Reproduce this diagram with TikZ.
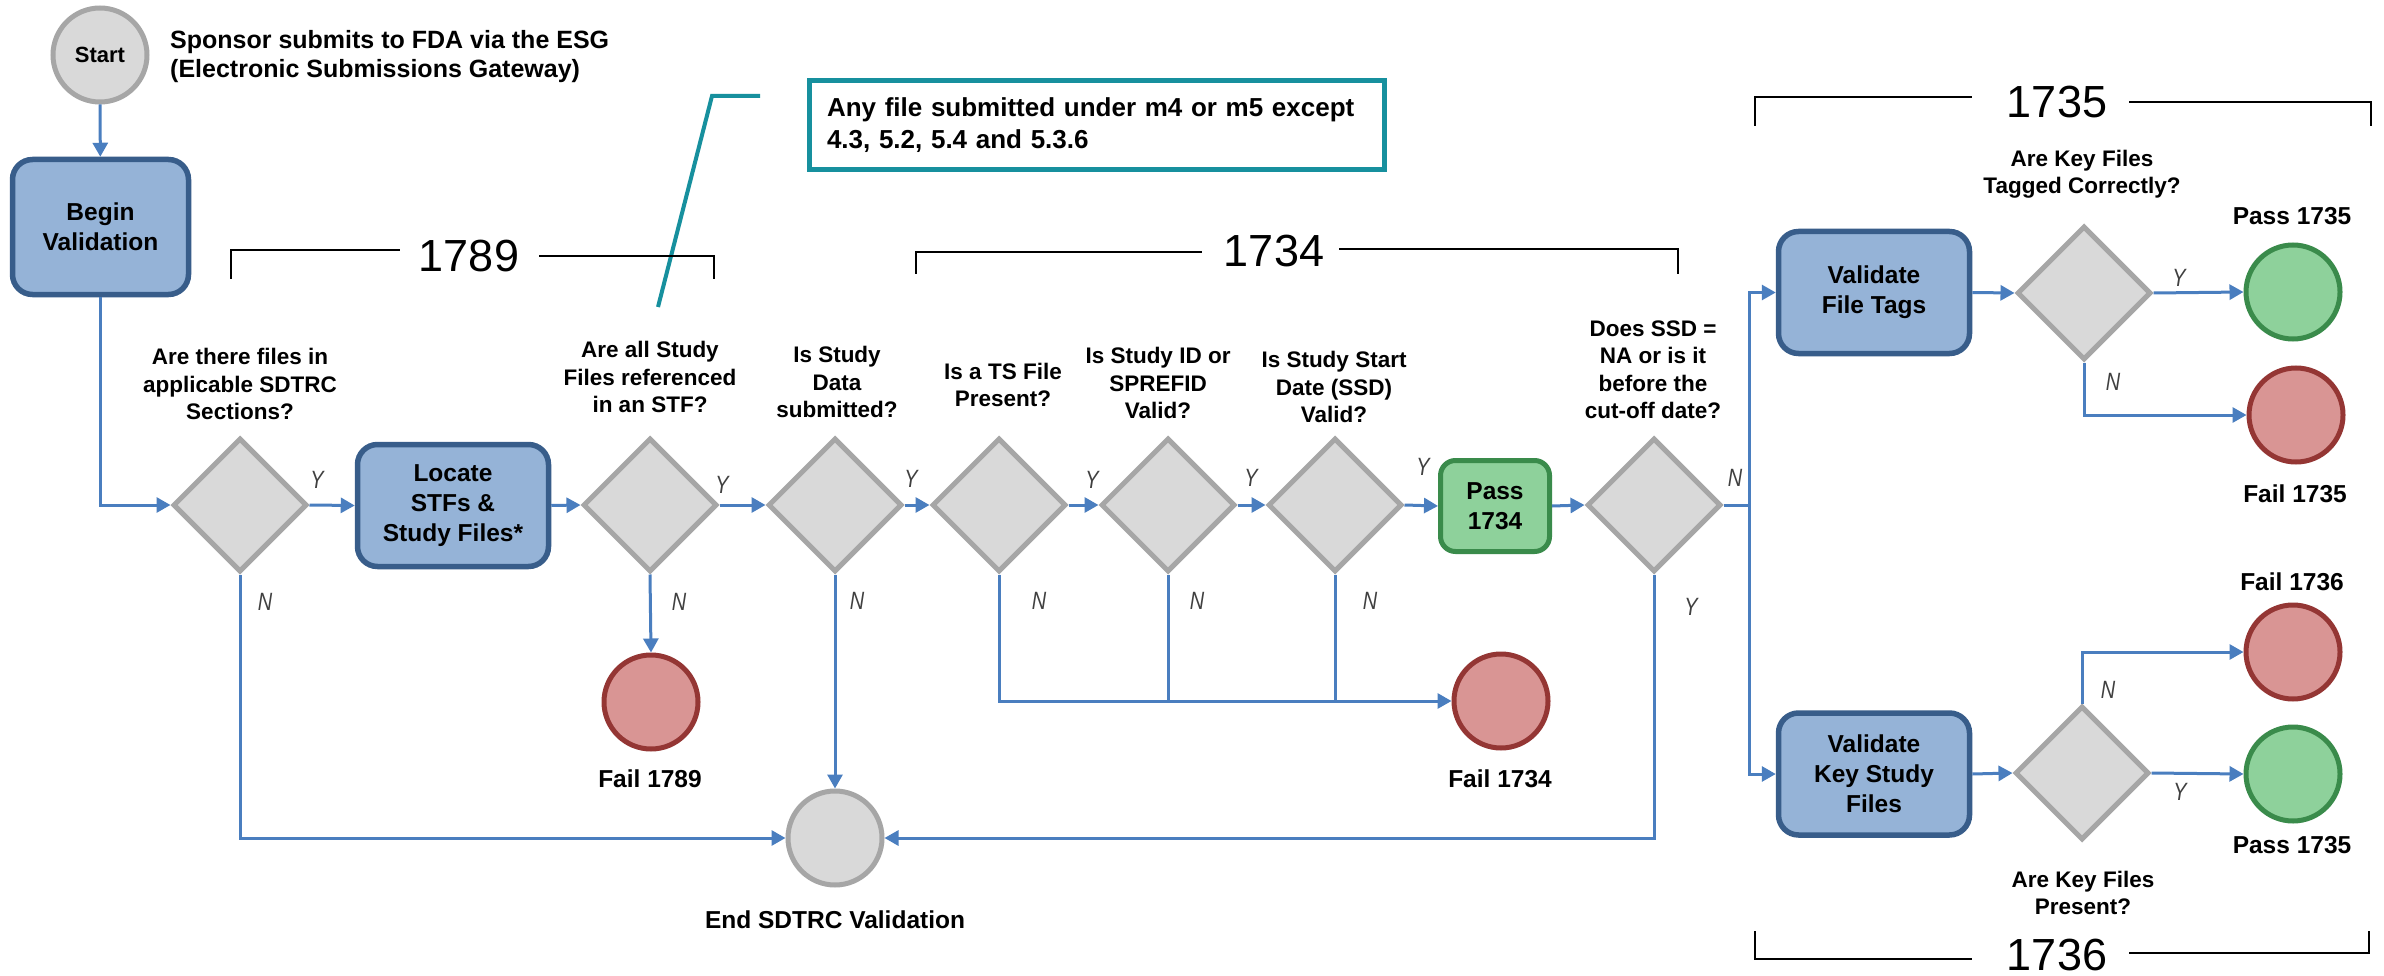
\documentclass[tikz,border=0pt]{standalone}
\usepackage{graphicx}
\usepackage{fontspec}
\setmainfont{Liberation Sans}
\usetikzlibrary{shapes.geometric,arrows.meta}

\definecolor{flowblue}{HTML}{4A7EBF}
\definecolor{procfill}{HTML}{95B3D7}
\definecolor{procline}{HTML}{385D8A}
\definecolor{decfill}{HTML}{D9D9D9}
\definecolor{decline}{HTML}{A6A6A6}
\definecolor{okfill}{HTML}{8ED19B}
\definecolor{okline}{HTML}{3A8B4B}
\definecolor{badfill}{HTML}{D99594}
\definecolor{badline}{HTML}{943634}
\definecolor{noteline}{HTML}{17909E}
\definecolor{labgray}{HTML}{404040}

\newcommand\txtbox{\fontsize{24.5}{30}\selectfont\bfseries}
\newcommand\txtq{\fontsize{22.5}{27.5}\selectfont\bfseries}
\newcommand\txtout{\fontsize{24.5}{29}\selectfont\bfseries}
\newcommand\txtrule{\fontsize{45}{50}\selectfont}
\newcommand\txtyn{\fontsize{25}{28}\selectfont\itshape}
% narrow italic branch letters
\newcommand\branch[1]{\scalebox{0.8}[1]{#1}}

\tikzset{
  conn/.style={draw=flowblue, line width=3pt, -{Triangle[length=14pt,width=15pt]}},
  joinline/.style={draw=flowblue, line width=3pt},
  decision/.style={diamond, draw=decline, fill=decfill, line width=5pt,
    minimum width=134pt, minimum height=134pt, inner sep=0pt},
  process/.style={rectangle, rounded corners=20pt, draw=procline, fill=procfill,
    line width=5.5pt, minimum width=191pt, minimum height=122pt,
    align=center, font=\txtbox, inner sep=0pt},
  okbox/.style={rectangle, rounded corners=15pt, draw=okline, fill=okfill,
    line width=5pt, minimum width=109pt, minimum height=91pt,
    align=center, font=\txtbox, inner sep=0pt},
  terminal/.style={circle, draw=decline, fill=decfill, line width=5pt,
    minimum size=94pt, inner sep=0pt},
  okend/.style={circle, draw=okline, fill=okfill, line width=5pt,
    minimum size=94pt, inner sep=0pt},
  badend/.style={circle, draw=badline, fill=badfill, line width=5pt,
    minimum size=94pt, inner sep=0pt},
  question/.style={align=center, font=\txtq, inner sep=0pt},
  outcome/.style={font=\txtout, inner sep=0pt},
  yn/.style={font=\txtyn, text=labgray, inner sep=0pt},
  rulenum/.style={font=\txtrule, inner sep=0pt},
  bracket/.style={draw=black, line width=2pt},
}

\begin{document}
\begin{tikzpicture}[x=1pt, y=-1pt]
\fill[white] (0,0) rectangle (2384,976);
\useasboundingbox (0,0) rectangle (2384,976);

% ---------- start ----------
\node[terminal, font=\fontsize{22}{26}\selectfont\bfseries] (start) at (100,55) {Start};
\node[anchor=west, align=left, font=\fontsize{25}{29}\selectfont\bfseries, inner sep=0pt] (sponsor) at (170,57)
  {Sponsor submits to FDA via the ESG\\(Electronic Submissions Gateway)};

\node[process, minimum width=176pt, minimum height=135pt] (begin) at (100.5,227) {Begin\\Validation};

% ---------- main row ----------
\node[decision] (d1) at (240,505) {};
\node[process] (loc) at (453,505.5) {Locate\\STFs \&\\Study Files*};
\node[decision] (d2) at (650,505) {};
\node[decision] (d3) at (835,505) {};
\node[decision] (d4) at (999,505) {};
\node[decision] (d5) at (1168,505) {};
\node[decision] (d6) at (1335,505) {};
\node[okbox] (pass34) at (1495,506) {Pass\\1734};
\node[decision] (d7) at (1654,505) {};

\node[badend] (fail89) at (651,702) {};
\node[badend] (fail34) at (1501,701) {};
\node[terminal] (end) at (835,838) {};

% ---------- right part ----------
\node[process] (tags) at (1874,292.5) {Validate\\File Tags};
\node[process] (keys) at (1874,774) {Validate\\Key Study\\Files};
\node[decision] (d8) at (2084,293) {};
\node[decision] (d9) at (2082,773) {};
\node[okend] (pass35a) at (2293,292) {};
\node[badend] (fail35) at (2296,415) {};
\node[badend] (fail36) at (2293,652) {};
\node[okend] (pass35b) at (2293,774) {};

% ---------- questions ----------
\node[question] (q1) at (240,384) {Are there files in\\applicable SDTRC\\Sections?};
\node[question] (q2) at (650,377) {Are all Study\\Files referenced\\in an STF?};
\node[question] (q3) at (837,382) {Is Study\\Data\\submitted?};
\node[question] (q4) at (1003,385) {Is a TS File\\Present?};
\node[question] (q5) at (1158,383) {Is Study ID or\\SPREFID\\Valid?};
\node[question] (q6) at (1334,387) {Is Study Start\\Date (SSD)\\Valid?};
\node[question] (q7) at (1653,370) {Does SSD =\\NA or is it\\before the\\cut-off date?};
\node[question] (q8) at (2082,174) {Are Key Files\\Tagged Correctly?};
\node[question] (q9) at (2083,893) {Are Key Files\\Present?};

% ---------- outcome captions ----------
\node[outcome] (cfail89) at (650,779) {Fail 1789};
\node[outcome] (cfail34) at (1500,779) {Fail 1734};
\node[outcome] (cend) at (835,920) {End SDTRC Validation};
\node[outcome] (cpass35a) at (2292,216) {Pass 1735};
\node[outcome] (cfail35) at (2295,494) {Fail 1735};
\node[outcome] (cfail36) at (2292,582) {Fail 1736};
\node[outcome] (cpass35b) at (2292,845) {Pass 1735};

% ---------- connectors ----------
\draw[conn] (start) -- (begin);
\draw[conn] (begin.south) |- (d1.west);
\draw[conn] (d1.east) -- (loc.west);
\draw[conn] (loc.east) -- (d2.west);
\draw[conn] (d2.east) -- (d3.west);
\draw[conn] (d3.east) -- (d4.west);
\draw[conn] (d4.east) -- (d5.west);
\draw[conn] (d5.east) -- (d6.west);
\draw[conn] (d6.east) -- (pass34.west);
\draw[conn] (pass34.east) -- (d7.west);

\draw[conn] (d1.south) |- (end.west);
\draw[conn] (d2.south) -- (fail89.north);
\draw[conn] (d3.south) -- (end.north);
\draw[conn] (d4.south) |- (fail34.west);
\draw[joinline] (d5.south) -- (d5.south |- fail34.west);
\draw[joinline] (d6.south) -- (d6.south |- fail34.west);
\draw[conn] (d7.south) |- (end.east);

\coordinate (split) at (1749,505);
\draw[joinline] (d7.east) -- (split);
\draw[conn] (split) |- (tags.west);
\draw[conn] (split) |- (keys.west);

\draw[conn] (tags.east) -- (d8.west);
\draw[conn] (d8.east) -- (pass35a.west);
\draw[conn] (d8.south) |- (fail35.west);
\draw[conn] (keys.east) -- (d9.west);
\draw[conn] (d9.north) |- (fail36.west);
\draw[conn] (d9.east) -- (pass35b.west);

% ---------- Y / N labels ----------
\node[yn] (y1) at (317,480) {\branch{Y}};
\node[yn] (y2) at (722,485) {\branch{Y}};
\node[yn] (y3) at (911,479) {\branch{Y}};
\node[yn] (y4) at (1092,480) {\branch{Y}};
\node[yn] (y5) at (1251,478) {\branch{Y}};
\node[yn] (y6) at (1423,467) {\branch{Y}};
\node[yn] (y7) at (1691,607) {\branch{Y}};
\node[yn] (y8) at (2179,278) {\branch{Y}};
\node[yn] (y9) at (2180,792) {\branch{Y}};
\node[yn] (n1) at (265,602) {\branch{N}};
\node[yn] (n2) at (679,602) {\branch{N}};
\node[yn] (n3) at (857,601) {\branch{N}};
\node[yn] (n4) at (1039,601) {\branch{N}};
\node[yn] (n5) at (1197,601) {\branch{N}};
\node[yn] (n6) at (1370,601) {\branch{N}};
\node[yn] (n7) at (1735,478) {\branch{N}};
\node[yn] (n8) at (2113,382) {\branch{N}};
\node[yn] (n9) at (2108,690) {\branch{N}};

% ---------- note on the scope of rule 1789 ----------
\node[draw=noteline, line width=5pt, minimum width=575pt, minimum height=89pt,
      text width=540pt, inner xsep=17.5pt, inner ysep=0pt, align=left,
      font=\fontsize{26}{32}\selectfont\bfseries] (note) at (1097,125)
  {Any file submitted under m4 or m5 except\\4.3, 5.2, 5.4 and 5.3.6};
\coordinate (leadfoot) at (658,307);
\coordinate (leadknee) at (712,96);
\coordinate (leadend) at (760,96);
\draw[noteline, line width=4pt] (leadfoot) -- (leadknee) -- (leadend);

% ---------- rule brackets ----------
\node[rulenum] (r1789) at (469,256) {1789};
\draw[bracket] (231,279) -- (231,250) -- (400,250);
\draw[bracket] (539,256) -- (714,256) -- (714,279);

\node[rulenum] (r1734) at (1274,251) {1734};
\draw[bracket] (916,274) -- (916,252) -- (1202,252);
\draw[bracket] (1339,249) -- (1678,249) -- (1678,274);

\node[rulenum] (r1735) at (2057,102) {1735};
\draw[bracket] (1755,126) -- (1755,97) -- (1972,97);
\draw[bracket] (2129,102) -- (2371,102) -- (2371,126);

\node[rulenum] (r1736) at (2057,955) {1736};
\draw[bracket] (1755,931) -- (1755,959) -- (1972,959);
\draw[bracket] (2129,953) -- (2369,953) -- (2369,931);
\end{tikzpicture}
\end{document}
